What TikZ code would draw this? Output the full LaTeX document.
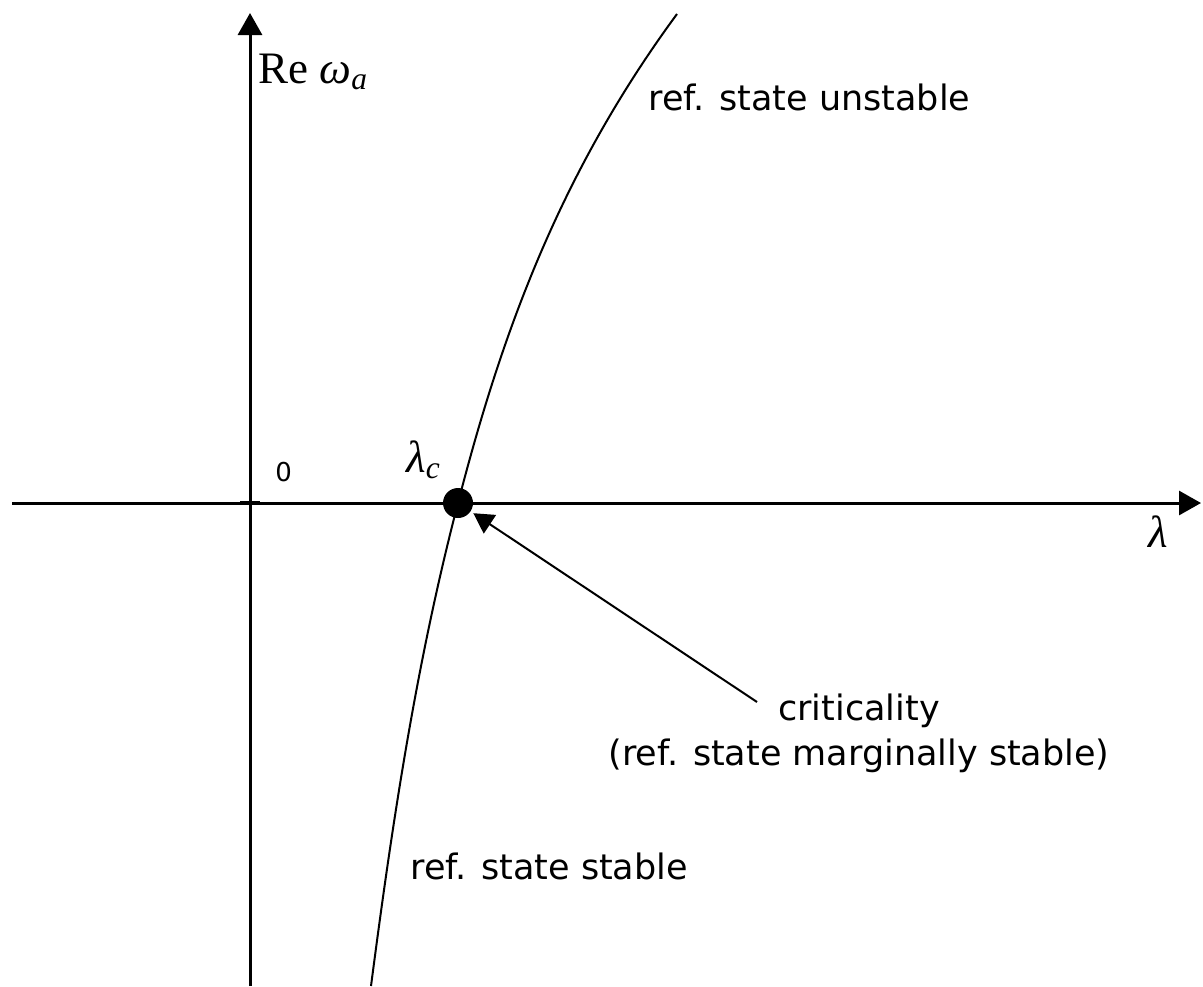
\documentclass[tikz,border=0pt]{standalone}
\usepackage{fontspec}
\setmainfont{Liberation Serif}
\newfontfamily\lucida{DejaVu Sans}
\usetikzlibrary{arrows.meta}
\begin{document}
\begin{tikzpicture}[x=0.5pt,y=-0.5pt,
  axis/.style={line width=1.5pt,-{Triangle[length=11pt,width=12pt]}},
  curve/.style={line width=1pt},
  note/.style={font=\lucida\fontsize{17.5}{21}\selectfont, inner sep=0pt, anchor=base west},
  mathlab/.style={font=\fontsize{22.5}{27}\selectfont, inner sep=0pt, anchor=base west},
  pointer/.style={line width=1pt,-{Triangle[length=10pt,width=11pt]}}]
\useasboundingbox (0,0) rectangle (1203,986);
% axes
\coordinate (xl) at (12,503);
\coordinate (xr) at (1201,503);
\coordinate (yb) at (250,986);
\coordinate (yt) at (250,13);
\coordinate (o) at (250,503);
\draw[axis] (xl) -- (xr);
\draw[axis] (yb) -- (yt);
\draw[line width=2.2pt] ([xshift=-5pt]o) -- ([xshift=5pt]o);
% critical point and curve
\node[circle,fill=black,inner sep=0pt,minimum size=15pt] (crit) at (458,503) {};
\coordinate (cb) at (371,986);
\coordinate (ct) at (677,14);
\draw[curve] (cb) .. controls (392,825) and (416,664) .. (crit.center)
  .. controls (500,340) and (557,177) .. (ct);
% labels
\node[mathlab] (ylab) at (258,83) {Re \textit{ω}\textsubscript{\textit{a}}};
\node[mathlab] (lc) at (406,472) {\textit{λ}\textsubscript{\textit{c}}};
\node[mathlab] (lam) at (1148,547) {\textit{λ}};
\node[note,font=\lucida\fontsize{13}{15}\selectfont] (zero) at (275,481) {0};
\node[note] (unst) at (648,110) {ref. state unstable};
\node[note,anchor=base] (crit1) at (859,720) {criticality};
\node[note,anchor=base] (crit2) at (859,765) {(ref. state marginally stable)};
\node[note] (st) at (410,879) {ref. state stable};
% pointer
\coordinate (astart) at (757,702);
\draw[pointer, shorten >=1.5pt] (astart) -- (crit);
\end{tikzpicture}
\end{document}
